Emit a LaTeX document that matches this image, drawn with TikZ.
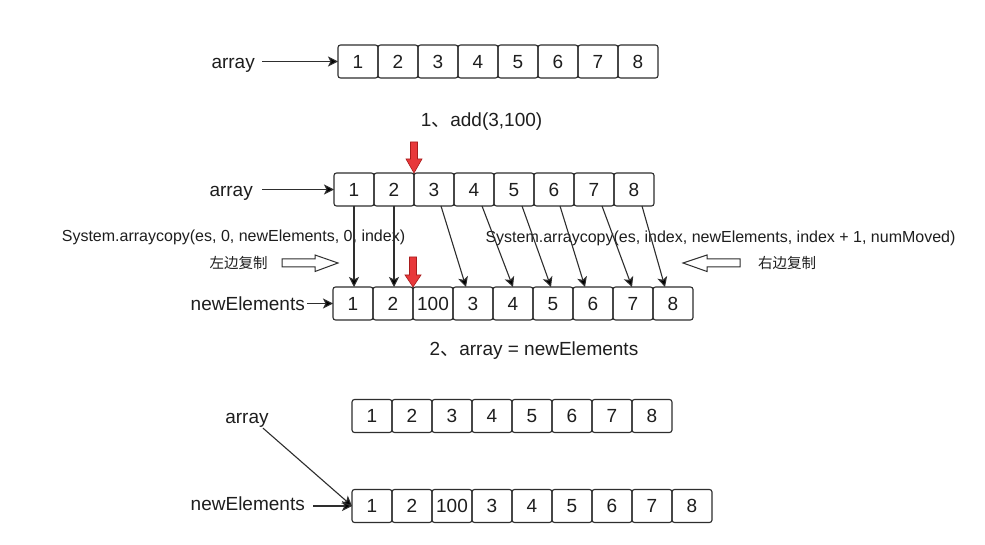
\documentclass[tikz,border=0pt]{standalone}
\usepackage{fontspec}
\setmainfont{Liberation Sans}
\newfontfamily\cjk{Noto Sans CJK SC}
\usetikzlibrary{arrows.meta,calc}
\definecolor{linec}{HTML}{2E2E2E}
\definecolor{txt}{HTML}{1E1E1E}
\definecolor{redf}{HTML}{E8383A}
\definecolor{redd}{HTML}{A81C1C}
\begin{document}
\begin{tikzpicture}[x=1pt,y=-1pt,
  cell/.style={draw=linec, line width=1.1pt, rounded corners=2.5pt, minimum width=40pt, minimum height=33pt, inner sep=0pt, outer sep=0pt, text height=13.6pt, text depth=0pt, font=\fontsize{19}{19}\selectfont, text=txt},
  lbl/.style={font=\fontsize{19}{19}\selectfont, text=txt, inner sep=2pt},
  codetxt/.style={font=\fontsize{16}{16}\selectfont, text=txt, inner sep=0pt},
  cntxt/.style={font=\cjk\fontsize{14.5}{14.5}\selectfont, text=txt, inner sep=0pt},
  arr/.style={draw=linec, line width=1.1pt, -{Stealth[length=10pt,width=10pt,inset=2.5pt,fill=black]}},
  redarr/.style={fill=redf, draw=redd, line width=0.6pt},
  openarr/.style={fill=white, draw=linec, line width=1pt, line join=miter},
]
\useasboundingbox[fill=white] (0,0) rectangle (985,545);

% rows of cells
\foreach \v [count=\i] in {1,...,8}
  \node[cell] (t\i) at (318+40*\i, 61.5) {\v};
\foreach \v [count=\i] in {1,...,8}
  \node[cell] (m\i) at (314+40*\i, 189.5) {\v};
\foreach \v [count=\i] in {1,2,100,3,4,5,6,7,8}
  \node[cell] (n\i) at (313+40*\i, 303.5) {\v};
\foreach \v [count=\i] in {1,...,8}
  \node[cell] (b\i) at (332+40*\i, 416) {\v};
\foreach \v [count=\i] in {1,2,100,3,4,5,6,7,8}
  \node[cell] (c\i) at (332+40*\i, 506) {\v};

% labels
\node[lbl, anchor=base east] (ta) at (257,69) {array};
\node[lbl, anchor=base east] (ma) at (255,197) {array};
\node[lbl, anchor=base east] (mn) at (307,311) {newElements};
\node[lbl, anchor=base] (ba) at (247,423) {array};
\node[lbl, anchor=base east] (bn) at (307,510.5) {newElements};

\node[lbl] (step1) at (481.5,122) {1{\cjk 、}add(3,100)};
\node[lbl] (step2) at (534,351) {2{\cjk 、}array = newElements};

\node[codetxt] (codeL) at (233.5,237) {System.arraycopy(es, 0, newElements, 0, index)};
\node[codetxt] (codeR) at (720.5,238) {System.arraycopy(es, index, newElements, index + 1, numMoved)};
\node[cntxt] (cnL) at (238.5,263) {左边复制};
\node[cntxt] (cnR) at (787,263) {右边复制};

% label arrows
\draw[arr] ([xshift=5pt]ta.east |- t1.west) -- (t1.west);
\draw[arr] ([xshift=7pt]ma.east |- m1.west) -- (m1.west);
\draw[arr] (mn.east |- n1.west) -- (n1.west);
\draw[arr] ([xshift=6pt]bn.east |- c1.west) -- (c1.west);
\draw[arr] ([xshift=16pt,yshift=1pt]ba.south) -- (c1.west);

% copy arrows
\draw[arr] (m1.south) -- (m1.south |- n1.north);
\draw[arr] (m2.south) -- (m2.south |- n2.north);
\draw[arr] ([xshift=7pt]m3.south) -- ([xshift=-7pt]n4.north);
\draw[arr] ([xshift=8pt]m4.south) -- (n5.north);
\draw[arr] ([xshift=8pt]m5.south) -- ([xshift=-2pt]n6.north);
\draw[arr] ([xshift=6pt]m6.south) -- ([xshift=-8pt]n7.north);
\draw[arr] ([xshift=8pt]m7.south) -- ([xshift=-1pt]n8.north);
\draw[arr] ([xshift=8pt]m8.south) -- ([xshift=-8pt]n9.north);

% red insertion arrows
\filldraw[redarr] (m2.north east) -- ++(-8,-14) -- ++(4.5,0) -- ++(0,-17) -- ++(7,0) -- ++(0,17) -- ++(4.5,0) -- cycle;
\filldraw[redarr] (n2.north east) -- ++(-8,-12) -- ++(4.5,0) -- ++(0,-18) -- ++(7,0) -- ++(0,18) -- ++(4.5,0) -- cycle;

% open block arrows
\draw[openarr] (282,259) -- (315,259) -- (315,255) -- (338,263) -- (315,271.5) -- (315,267) -- (282,267) -- cycle;
\draw[openarr] (740,259) -- (707,259) -- (707,255) -- (683,263) -- (707,271.5) -- (707,267) -- (740,267) -- cycle;
\end{tikzpicture}
\end{document}
